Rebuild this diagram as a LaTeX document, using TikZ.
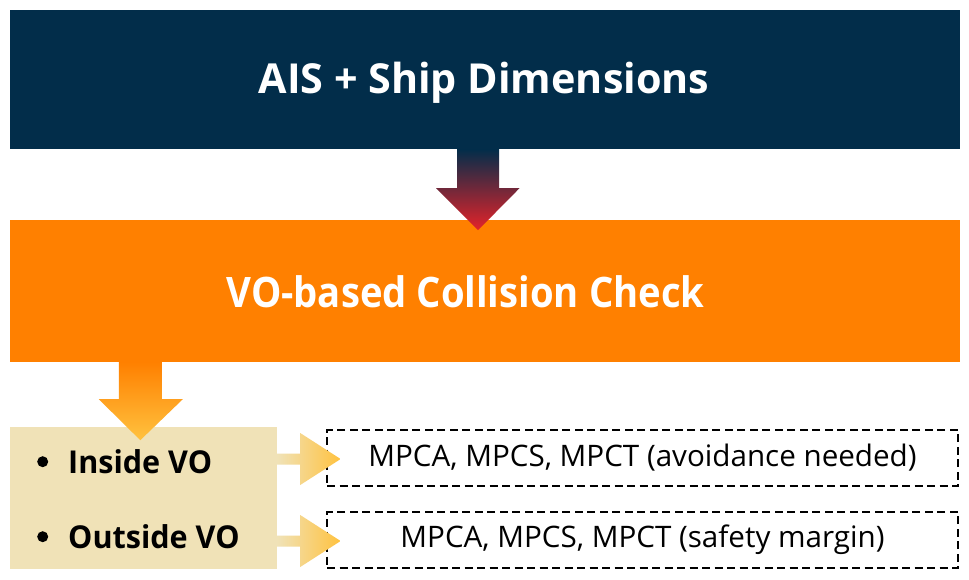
\documentclass[tikz,border=0pt]{standalone}
\usepackage{fontspec}
\setmainfont{Open Sans}
\usetikzlibrary{calc}
\definecolor{navy}{HTML}{022D4A}
\definecolor{vorange}{HTML}{FF8000}
\definecolor{beige}{HTML}{F0E2B7}
\definecolor{arrred}{HTML}{E52329}
\definecolor{arryel}{HTML}{FFC23F}
\tikzset{
  bigbox/.style={draw=none, minimum width=950pt, inner sep=0pt},
  titletext/.style={text=white, font=\bfseries\fontsize{41.3}{44}\selectfont, inner sep=0pt, anchor=base},
  sidebox/.style={draw=none, fill=beige, minimum width=267pt, minimum height=142pt, inner sep=0pt},
  outbox/.style={draw=black, line width=2.8pt, dash pattern=on 8pt off 4.5pt, minimum width=631pt, minimum height=56pt, inner sep=0pt, font=\fontsize{29.6}{33}\selectfont},
  label/.style={font=\bfseries\fontsize{31.5}{36}\selectfont, inner sep=0pt, anchor=base west},
  bulletdot/.style={circle, fill=black, minimum size=11pt, inner sep=0pt}
}
\begin{document}
\begin{tikzpicture}[x=1pt,y=-1pt]
\useasboundingbox[fill=white] (0,0) rectangle (969,579);
% boxes
\node[bigbox, fill=navy, minimum height=139pt] (ais) at (485,79.5) {};
\node[bigbox, fill=vorange, minimum height=142pt] (vo) at (485,291) {};
\node[sidebox] (side) at (143.5,498) {};
\node[outbox] (out1) at (642.5,458) {MPCA, MPCS, MPCT (avoidance needed)};
\node[outbox] (out2) at (642.5,540) {MPCA, MPCS, MPCT (safety margin)};
% titles
\node[titletext] (aistext) at (484,93) {AIS + Ship Dimensions};
\node[titletext, font=\bfseries\fontsize{42}{46}\selectfont] (votext) at (465.5,307) {\scalebox{0.91}[1]{VO-based Collision Check}};
% arrow 1: AIS -> VO
\coordinate (a1) at ($(ais.south)+(-7,0)$);
\shade[top color=navy, bottom color=arrred]
  ($(a1)+(-21,0)$) -- ($(a1)+(21,0)$) -- ($(a1)+(21,39)$) -- ($(a1)+(41.5,39)$)
  -- ($(a1)+(0,81)$) -- ($(a1)+(-42,39)$) -- ($(a1)+(-21,39)$) -- cycle;
% arrow 2: VO -> side
\coordinate (a2) at ($(vo.south west)+(130.5,0)$);
\shade[top color=vorange, bottom color=arryel]
  ($(a2)+(-21.5,0)$) -- ($(a2)+(21.5,0)$) -- ($(a2)+(21.5,37)$) -- ($(a2)+(42.5,37)$)
  -- ($(a2)+(0,78)$) -- ($(a2)+(-41.5,37)$) -- ($(a2)+(-21.5,37)$) -- cycle;
% labels
\node[bulletdot] (b1) at (42.7,461.7) {};
\node[label] (inside) at (68,473.3) {\scalebox{0.97}[1]{Inside VO}};
\node[bulletdot] (b2) at (42.7,536.7) {};
\node[label] (outside) at (68,548.3) {\scalebox{0.97}[1]{Outside VO}};
% small arrows
\foreach \o/\yy in {out1/458, out2/540} {
  \coordinate (s) at ($(side.east |- 0,\yy)+(0,1)$);
  \coordinate (t) at ($(\o.west |- 0,\yy)+(15,1)$);
  \shade[left color=beige, right color=arryel]
    ($(s)+(0,-5.5)$) -- ($(s)+(23,-5.5)$) -- ($(s)+(23,-26)$) -- (t)
    -- ($(s)+(23,26)$) -- ($(s)+(23,5.5)$) -- ($(s)+(0,5.5)$) -- cycle;
}
\end{tikzpicture}
\end{document}
